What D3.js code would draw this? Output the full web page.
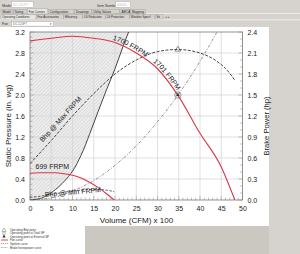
<!DOCTYPE html>
<html><head><meta charset="utf-8">
<script src="https://cdn.jsdelivr.net/npm/d3@7"></script>
<style>body{margin:0;background:#d6d3ce;}svg{display:block;font-family:"Liberation Sans",Arial,sans-serif;}</style>
</head><body>
<svg id="c" width="300" height="254"></svg>
<script>
// ---- data ----
const volumeTicks = [0,5,10,15,20,25,30,35,40,45,50];
const spTicks = [0,0.4,0.8,1.2,1.6,2.0,2.4,2.8,3.2];
const hpTicks = [0,0.3,0.6,0.9,1.2,1.5,1.8,2.1,2.4];

const fanMaxVol = [0,5,10,15,20,25,30,35,40,45,48.2];
const fanMaxSP  = [3.03,3.08,3.12,3.08,3.0,2.8,2.5,1.97,1.27,0.63,0];

const fanMinVol = [0,2,4,6,8,10,12,14,16,18,19.8];
const fanMinSP  = [0.51,0.52,0.52,0.52,0.5,0.47,0.42,0.34,0.24,0.12,0];

const limitVol = [0,2,4,6,8,10,12,14,16,18,20,22,23.2];
const limitSP  = [0,0.02,0.09,0.2,0.35,0.55,0.85,1.25,1.68,2.1,2.5,2.95,3.2];

const sysVol = [0,5,10,15,20,25,30,35,40,44];
const sysSP  = [0,0.04,0.17,0.37,0.66,1.03,1.49,2.02,2.64,3.2];

const bhpMaxVol = [0,5,10,15,20,25,30,34.7,40,44,46,48.2];
const bhpMaxHP  = [0.52,0.85,1.2,1.52,1.8,2.0,2.12,2.15,2.1,1.98,1.88,1.71];

const bhpMinVol = [0,2,4,6,8,10,12,14,16,18,19.8];
const bhpMinHP  = [0.04,0.05,0.07,0.09,0.11,0.13,0.14,0.15,0.15,0.14,0.12];

const opVol = 34.8, opSP = 2.0, opBhp = 2.15;

const legendItems = ["Operating Bhp point","Operating point at Total SP","Operating point at External SP","Fan curve","System curve","Brake horsepower curve"];
const tabs1 = ["Model","Sizing","Fan Curves","Configuration","Drawings","Utility Values","AMCA","Mapping"];
const tabs2 = ["Operating Conditions","Fan Accessories","Efficiency","LS Reduction","LS Protection","Weather Specif","Sit"];

// ---- layout ----
const svg = d3.select("#c");
const x = d3.scaleLinear().domain([0,50]).range([30,242.5]);
const y = d3.scaleLinear().domain([0,3.2]).range([200,32]);
const y2 = d3.scaleLinear().domain([0,2.4]).range([200,32]);

// UI chrome
svg.append("rect").attr("x",0).attr("y",0).attr("width",300).attr("height",254).attr("fill","#d6d3ce");
svg.append("text").attr("x",2).attr("y",6.5).attr("font-size",3.6).attr("fill","#333").text("Model");
svg.append("rect").attr("x",11.5).attr("y",1.5).attr("width",22).attr("height",6).attr("fill","#fff").attr("stroke","#aaa").attr("stroke-width",0.5);
svg.append("text").attr("x",13).attr("y",5.8).attr("font-size",3).attr("fill","#bbb").text("DC-120-FT");
svg.append("text").attr("x",97).attr("y",6.5).attr("font-size",3.6).attr("fill","#333").text("Item Number");
svg.append("rect").attr("x",115.5).attr("y",1.5).attr("width",15).attr("height",6).attr("fill","#fff").attr("stroke","#aaa").attr("stroke-width",0.5);
svg.append("text").attr("x",117).attr("y",5.8).attr("font-size",3).attr("fill","#bbb").text("000001");
svg.append("line").attr("x1",0).attr("x2",300).attr("y1",13.5).attr("y2",13.5).attr("stroke","#fff").attr("stroke-width",0.6);
let tx = 1;
tabs1.forEach((t,i)=>{
  const w = t.length*1.75+3;
  svg.append("rect").attr("x",tx).attr("y",i===2?8.5:9.3).attr("width",w).attr("height",i===2?5.5:4.5).attr("fill",i===2?"#e8e6e2":"#d6d3ce").attr("stroke","#999").attr("stroke-width",0.4);
  svg.append("text").attr("x",tx+1.5).attr("y",12.6).attr("font-size",3.1).attr("fill","#222").text(t);
  tx += w+0.5;
});
tx = 1;
tabs2.forEach((t,i)=>{
  const w = t.length*1.6+3;
  svg.append("rect").attr("x",tx).attr("y",14.8).attr("width",w).attr("height",4.6).attr("fill",i===0?"#e8e6e2":"#d6d3ce").attr("stroke","#999").attr("stroke-width",0.4);
  svg.append("text").attr("x",tx+1.3).attr("y",18.3).attr("font-size",2.9).attr("fill","#222").text(t);
  tx += w+0.3;
});
svg.append("text").attr("x",tx+2).attr("y",18.3).attr("font-size",3.1).attr("fill","#555").text("◂ ▸");
svg.append("line").attr("x1",0).attr("x2",300).attr("y1",19.8).attr("y2",19.8).attr("stroke","#fff").attr("stroke-width",0.6);
svg.append("text").attr("x",2).attr("y",25).attr("font-size",3.5).attr("fill","#333").text("Fan");
svg.append("rect").attr("x",11.5).attr("y",21.5).attr("width",42).attr("height",4.6).attr("fill","#fff").attr("stroke","#999").attr("stroke-width",0.4);
svg.append("text").attr("x",13).attr("y",25).attr("font-size",3).attr("fill","#666").text("DC-120FT");
svg.append("text").attr("x",50).attr("y",25.2).attr("font-size",3.4).attr("fill","#333").text("▾");

// white panel
svg.append("rect").attr("x",0).attr("y",27).attr("width",269).attr("height",199).attr("fill","#fff");
svg.append("rect").attr("x",0).attr("y",226).attr("width",85).attr("height",28).attr("fill","#fff");
svg.append("rect").attr("x",85).attr("y",226).attr("width",184).attr("height",28).attr("fill","#cbc8c2");

// defs
const defs = svg.append("defs");
const pat = defs.append("pattern").attr("id","hatch").attr("width",2.5).attr("height",2.5)
  .attr("patternUnits","userSpaceOnUse").attr("patternTransform","rotate(45)");
pat.append("rect").attr("width",2.5).attr("height",2.5).attr("fill","#ededed");
pat.append("line").attr("x1",0).attr("y1",0).attr("x2",0).attr("y2",2.5).attr("stroke","#c9c9c9").attr("stroke-width",0.9);
defs.append("clipPath").attr("id","clip").append("rect").attr("x",x(0)).attr("y",y(3.2)).attr("width",x(50)-x(0)).attr("height",y(0)-y(3.2));

// hatched region left of limit curve
const limitPts = limitVol.map((v,i)=>[v,limitSP[i]]);
const areaPts = [[0,3.2],[0,0]].concat(limitPts).concat([[limitVol[limitVol.length-1],3.2]]);
svg.append("path").attr("clip-path","url(#clip)")
  .attr("d", d3.line().x(d=>x(d[0])).y(d=>y(d[1])).curve(d3.curveLinear)(areaPts)+"Z")
  .attr("fill","url(#hatch)");

// grid
const g = svg.append("g");
g.selectAll(".vg").data(volumeTicks.slice(1,-1)).join("line").attr("x1",d=>x(d)).attr("x2",d=>x(d)).attr("y1",y(0)).attr("y2",y(3.2)).attr("stroke","#d2d2d2").attr("stroke-width",0.7);
g.selectAll(".hg").data(spTicks.slice(1,-1)).join("line").attr("y1",d=>y(d)).attr("y2",d=>y(d)).attr("x1",x(0)).attr("x2",x(50)).attr("stroke","#d2d2d2").attr("stroke-width",0.7);

// axes
const fmt = d3.format(".1f");
const axL = d3.axisLeft(y).tickValues(spTicks).tickFormat(fmt).tickSize(0).tickPadding(5);
const axR = d3.axisRight(y2).tickValues(hpTicks).tickFormat(fmt).tickSize(0).tickPadding(5);
const axB = d3.axisBottom(x).tickValues(volumeTicks).tickFormat(d3.format("d")).tickSize(0).tickPadding(6);
[[svg.append("g").attr("transform",`translate(${x(0)},0)`).call(axL)],
 [svg.append("g").attr("transform",`translate(${x(50)},0)`).call(axR)],
 [svg.append("g").attr("transform",`translate(0,${y(0)})`).call(axB)]].forEach(([a])=>{
  a.select(".domain").remove();
  a.selectAll("text").attr("font-size",7).attr("fill","#222").attr("font-family","Liberation Sans, Arial, sans-serif");
});
// minor ticks inside
const minorL = d3.range(0,3.2001,0.1);
svg.append("g").selectAll("line").data(minorL).join("line").attr("x1",x(0)).attr("x2",d=>x(0)+(Math.abs(d/0.4-Math.round(d/0.4))<1e-6?4:2.5)).attr("y1",d=>y(d)).attr("y2",d=>y(d)).attr("stroke","#888").attr("stroke-width",0.5);
const minorR = d3.range(0,2.4001,0.1);
svg.append("g").selectAll("line").data(minorR).join("line").attr("x1",x(50)).attr("x2",d=>x(50)-(Math.abs(d/0.3-Math.round(d/0.3))<1e-6?4:2.5)).attr("y1",d=>y2(d)).attr("y2",d=>y2(d)).attr("stroke","#888").attr("stroke-width",0.5);
const minorB = d3.range(0,50.001,1);
svg.append("g").selectAll("line").data(minorB).join("line").attr("y1",y(0)).attr("y2",d=>y(0)-(d%5===0?4:2.5)).attr("x1",d=>x(d)).attr("x2",d=>x(d)).attr("stroke","#888").attr("stroke-width",0.5);
svg.append("rect").attr("x",x(0)).attr("y",y(3.2)).attr("width",x(50)-x(0)).attr("height",y(0)-y(3.2)).attr("fill","none").attr("stroke","#777").attr("stroke-width",0.8);

// axis titles
svg.append("text").attr("transform",`translate(10.5,126) rotate(-90)`).attr("text-anchor","middle").attr("font-size",8).attr("fill","#222").text("Static Pressure (in. wg)");
svg.append("text").attr("transform",`translate(268.5,126) rotate(-90)`).attr("text-anchor","middle").attr("font-size",7.6).attr("fill","#222").text("Brake Power (hp)");
svg.append("text").attr("x",136.5).attr("y",223).attr("text-anchor","middle").attr("font-size",8).attr("fill","#222").text("Volume (CFM) x 100");

// curves
const plot = svg.append("g").attr("clip-path","url(#clip)");
const lineSP = d3.line().x(d=>x(d[0])).y(d=>y(d[1])).curve(d3.curveMonotoneX);
const lineHP = d3.line().x(d=>x(d[0])).y(d=>y2(d[1])).curve(d3.curveMonotoneX);
const zip = (a,b)=>a.map((v,i)=>[v,b[i]]);

plot.append("path").attr("d",d3.line().x(d=>x(d[0])).y(d=>y(d[1])).curve(d3.curveMonotoneY)(limitPts.map(d=>d)))
  .attr("fill","none").attr("stroke","#444").attr("stroke-width",1);
plot.append("path").attr("d",lineSP(zip(sysVol,sysSP))).attr("fill","none").attr("stroke","#777").attr("stroke-width",0.8).attr("stroke-dasharray","3,1.5,1,1.5");
plot.append("path").attr("d",lineHP(zip(bhpMaxVol,bhpMaxHP))).attr("fill","none").attr("stroke","#333").attr("stroke-width",0.9).attr("stroke-dasharray","3,1.5");
plot.append("path").attr("d",lineHP(zip(bhpMinVol,bhpMinHP))).attr("fill","none").attr("stroke","#333").attr("stroke-width",0.8).attr("stroke-dasharray","2.5,1.5");
const fanMaxPath = plot.append("path").attr("id","fanmax").attr("d",lineSP(zip(fanMaxVol,fanMaxSP))).attr("fill","none").attr("stroke","#d9364a").attr("stroke-width",1.1);
plot.append("path").attr("d",lineSP(zip(fanMinVol,fanMinSP))).attr("fill","none").attr("stroke","#d9364a").attr("stroke-width",1.1);

// markers
const tri = d3.symbol().type(d3.symbolTriangle).size(14);
svg.append("path").attr("d",tri()).attr("transform",`translate(${x(opVol)},${y2(opBhp)})`).attr("fill","none").attr("stroke","#444").attr("stroke-width",0.6);
svg.append("circle").attr("cx",x(opVol)).attr("cy",y(opSP)).attr("r",3.2).attr("fill","none").attr("stroke","#555").attr("stroke-width",0.6);
svg.append("path").attr("d",d3.symbol().type(d3.symbolTriangle).size(6)()).attr("transform",`translate(${x(opVol)},${y(opSP)})`).attr("fill","#333");

// labels along the fan curve
const node = fanMaxPath.node();
const L = node.getTotalLength();
function offsetAt(v){ let lo=0,hi=L; for(let k=0;k<40;k++){const m=(lo+hi)/2; if(node.getPointAtLength(m).x<x(v)) lo=m; else hi=m;} return lo; }
[["1700 FRPM",19.3],["1701 FRPM",28.6]].forEach(([t,v])=>{
  svg.append("text").attr("font-size",7).attr("fill","#222").attr("dy",-1.8)
    .append("textPath").attr("href","#fanmax").attr("startOffset",offsetAt(v)).text(t);
});
svg.append("text").attr("x",x(1.3)).attr("y",y(0.6)).attr("font-size",7).attr("fill","#222").text("699 FRPM");
svg.append("text").attr("transform",`translate(${x(3.5)},${y2(0.05)+0.5}) rotate(-5)`).attr("font-size",7).attr("fill","#222").text("Bhp @ Min FRPM");
svg.append("text").attr("transform",`translate(${x(3)},${y2(0.82)}) rotate(-48)`).attr("font-size",7).attr("fill","#222").text("Bhp @ Max FRPM");

// legend
const lg = svg.append("g");
const ly = [230.3,233.4,236.5,240,243.5,247.5];
legendItems.forEach((t,i)=>{
  lg.append("text").attr("x",10).attr("y",ly[i]+1).attr("font-size",2.9).attr("fill","#333").text(t);
});
lg.append("path").attr("d",d3.symbol().type(d3.symbolTriangle).size(7)()).attr("transform",`translate(4,${ly[0]})`).attr("fill","none").attr("stroke","#555").attr("stroke-width",0.4);
lg.append("circle").attr("cx",4).attr("cy",ly[1]).attr("r",1.4).attr("fill","none").attr("stroke","#555").attr("stroke-width",0.4);
lg.append("path").attr("d",d3.symbol().type(d3.symbolTriangle).size(5)()).attr("transform",`translate(4,${ly[2]})`).attr("fill","#333");
lg.append("line").attr("x1",1).attr("x2",8).attr("y1",ly[3]).attr("y2",ly[3]).attr("stroke","#d9364a").attr("stroke-width",0.9);
lg.append("line").attr("x1",1).attr("x2",8).attr("y1",ly[4]).attr("y2",ly[4]).attr("stroke","#555").attr("stroke-width",0.5).attr("stroke-dasharray","1.2,0.8");
lg.append("line").attr("x1",1).attr("x2",8).attr("y1",ly[5]).attr("y2",ly[5]).attr("stroke","#555").attr("stroke-width",0.5).attr("stroke-dasharray","1.5,0.7,0.5,0.7");
</script>
</body></html>
